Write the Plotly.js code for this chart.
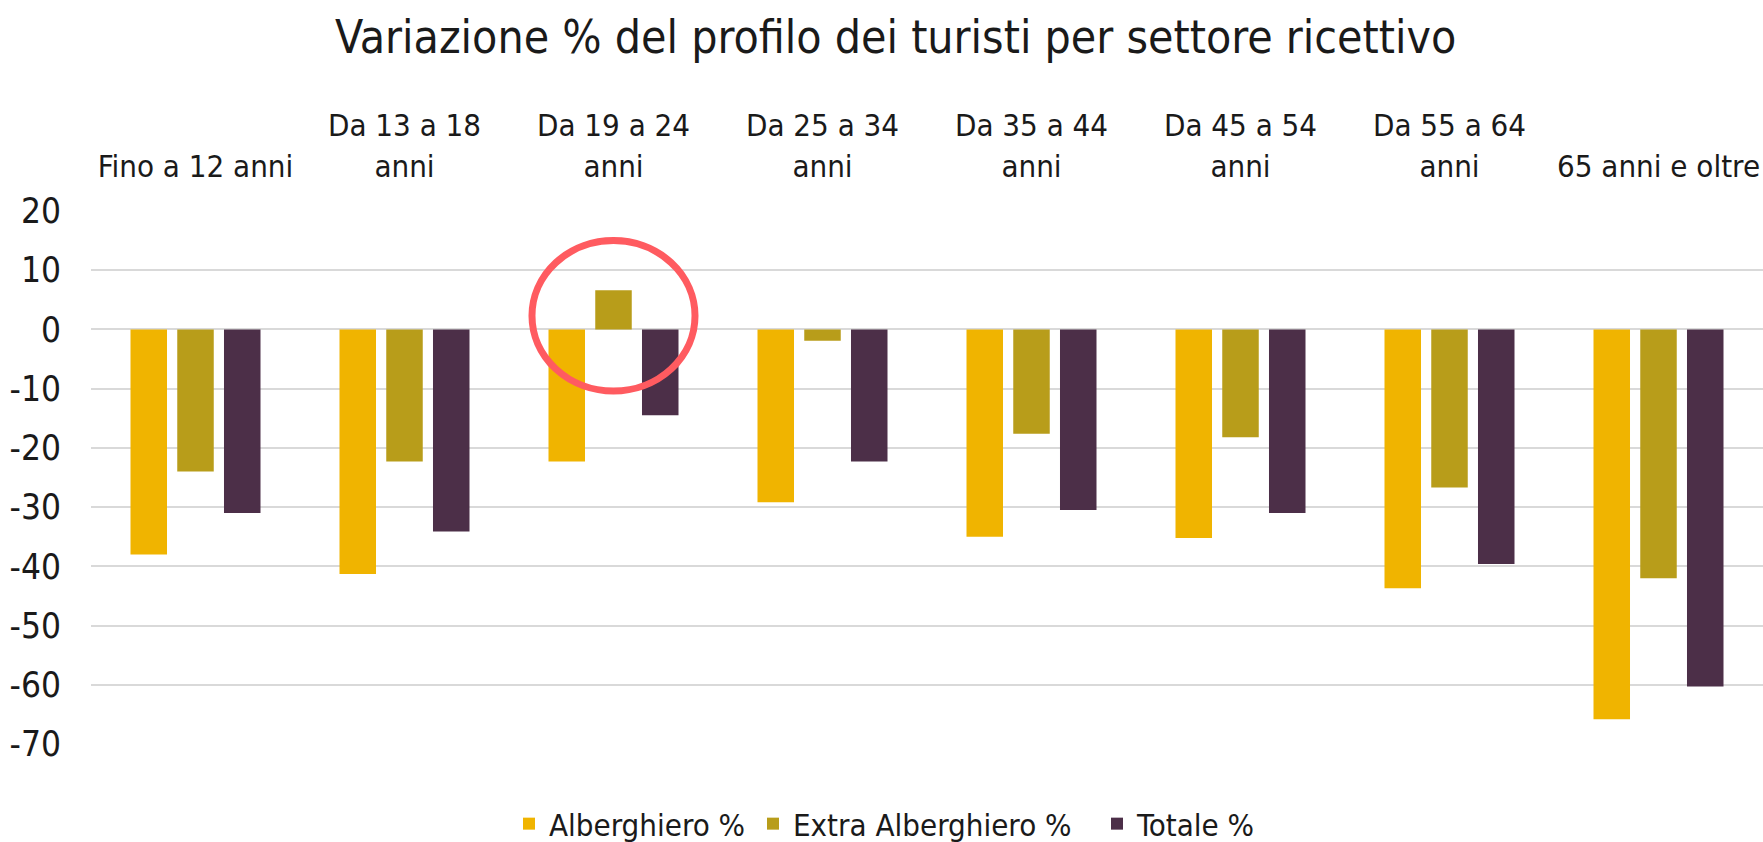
<!DOCTYPE html>
<html>
<head>
<meta charset="utf-8">
<script src="https://cdn.plot.ly/plotly-3.0.1.min.js"></script>
<style>
  html, body { margin: 0; padding: 0; background: #ffffff; }
  #chart { width: 1763px; height: 842px; }
</style>
</head>
<body>
<div id="chart"></div>
<script>
// ---- Data ----
const categories = [
  "Fino a 12 anni",
  "Da 13 a 18<br>anni",
  "Da 19 a 24<br>anni",
  "Da 25 a 34<br>anni",
  "Da 35 a 44<br>anni",
  "Da 45 a 54<br>anni",
  "Da 55 a 64<br>anni",
  "65 anni e oltre"
];
const seriesNames = ["Alberghiero %", "Extra Alberghiero %", "Totale %"];
const alberghiero = [-38.0, -41.3, -22.3, -29.2, -35.0, -35.2, -43.7, -65.8];
const extraAlberghiero = [-24.0, -22.3, 6.6, -1.9, -17.6, -18.2, -26.7, -42.0];
const totale = [-31.0, -34.1, -14.5, -22.3, -30.5, -31.0, -39.6, -60.3];
const yTicks = [20, 10, 0, -10, -20, -30, -40, -50, -60, -70];

const colors = ["#F0B400", "#B89D1A", "#4C2F48"];
const FONT = "'Liberation Sans Narrow', 'Arial Narrow', 'DejaVu Sans Condensed', sans-serif";

// one legend per series so each entry sits where the reference puts it
const legendIds = ["legend", "legend2", "legend3"];
const legendX = [509 / 1763, 753 / 1763, 1097 / 1763];

const values = [alberghiero, extraAlberghiero, totale];
const traces = values.map((v, i) => ({
  type: "bar",
  name: seriesNames[i],
  x: categories,
  y: v,
  legend: legendIds[i],
  marker: { color: colors[i], line: { width: 0 } },
  hoverinfo: "x+y+name"
}));

function legendSpec(i) {
  return {
    orientation: "h",
    x: legendX[i], xanchor: "left", xref: "container",
    y: 1 - 824 / 842, yanchor: "middle", yref: "container",
    font: { family: FONT, size: 31, color: "#1a1a1a" },
    bgcolor: "rgba(0,0,0,0)",
    borderwidth: 0,
    itemwidth: 30
  };
}

const layout = {
  width: 1763,
  height: 842,
  paper_bgcolor: "#ffffff",
  plot_bgcolor: "#ffffff",
  font: { family: FONT, color: "#1a1a1a", size: 31 },
  title: {
    text: "Variazione % del profilo dei turisti per settore ricettivo",
    font: { family: FONT, size: 46, color: "#1a1a1a" },
    x: 0.508, xref: "container", xanchor: "center",
    y: 1 - 37 / 842, yref: "container", yanchor: "middle"
  },
  margin: { l: 91, r: 0, t: 211, b: 98, pad: 0 },
  barmode: "group",
  bargap: 0.329,
  bargroupgap: 0.219,
  showlegend: true,
  legend: legendSpec(0),
  legend2: legendSpec(1),
  legend3: legendSpec(2),
  xaxis: {
    type: "category",
    side: "top",
    showgrid: false,
    showline: false,
    zeroline: false,
    ticks: "",
    tickfont: { family: FONT, size: 31, color: "#1a1a1a" },
    ticklabelstandoff: 27,
    fixedrange: true
  },
  yaxis: {
    range: [-70, 20],
    tickmode: "array",
    tickvals: yTicks,
    ticktext: yTicks.map(String),
    showgrid: true,
    gridcolor: "#D9D9D9",
    gridwidth: 2,
    zeroline: true,
    zerolinecolor: "#D9D9D9",
    zerolinewidth: 2,
    showline: false,
    ticks: "",
    tickfont: { family: FONT, size: 35, color: "#1a1a1a" },
    ticklabelstandoff: 29,
    fixedrange: true
  },
  shapes: [{
    type: "circle",
    xref: "x", yref: "y",
    x0: 1.61, x1: 2.39,
    y0: -10.4, y1: 15.0,
    line: { color: "#FF5B60", width: 7 },
    fillcolor: "rgba(0,0,0,0)",
    layer: "above"
  }]
};

Plotly.newPlot("chart", traces, layout, { displayModeBar: false, staticPlot: true });
</script>
</body>
</html>
